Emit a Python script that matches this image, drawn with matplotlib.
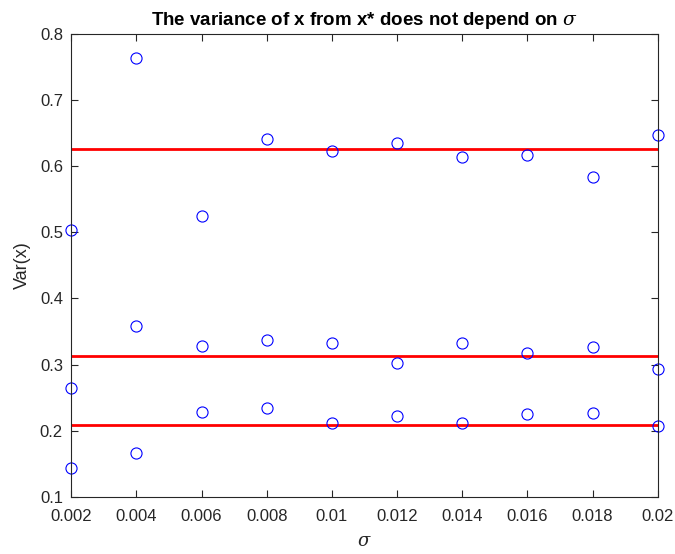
import numpy as np
import matplotlib.pyplot as plt
from matplotlib.ticker import FuncFormatter

plt.rcParams['font.family'] = ['Liberation Sans', 'DejaVu Sans']
plt.rcParams['mathtext.fontset'] = 'dejavuserif'

sigma = [0.002, 0.004, 0.006, 0.008, 0.010, 0.012, 0.014, 0.016, 0.018, 0.020]
var_high = [0.504, 0.764, 0.525, 0.641, 0.623, 0.635, 0.614, 0.617, 0.583, 0.647]
var_mid = [0.265, 0.359, 0.328, 0.337, 0.332, 0.303, 0.333, 0.317, 0.327, 0.294]
var_low = [0.144, 0.167, 0.228, 0.234, 0.211, 0.223, 0.212, 0.225, 0.227, 0.207]
levels = [0.6255, 0.3128, 0.2085]

fig = plt.figure(figsize=(6.75, 5.54), dpi=100)
ax = fig.add_axes([0.1055, 0.103, 0.869, 0.836])

for lv in levels:
    ax.plot([sigma[0], sigma[-1]], [lv, lv], color='red', lw=2)
for v in (var_high, var_mid, var_low):
    ax.plot(sigma, v, 'o', mfc='none', mec='blue', ms=8, mew=0.8, clip_on=False)

ax.set_xlim(0.002, 0.02)
ax.set_ylim(0.1, 0.8)
ax.set_xticks(sigma)
ax.set_yticks(np.arange(0.1, 0.81, 0.1))
ax.xaxis.set_major_formatter(FuncFormatter(lambda v, p: '%g' % round(v, 4)))
ax.yaxis.set_major_formatter(FuncFormatter(lambda v, p: '%g' % round(v, 2)))
ax.tick_params(direction='in', top=True, right=True, length=5, width=0.8,
               labelsize=12, colors='#262626')
ax.tick_params(axis='x', pad=9)
ax.tick_params(axis='y', pad=6)
for s in ax.spines.values():
    s.set_color('#262626')
    s.set_linewidth(0.8)

ax.set_xlabel(r'$\sigma$', fontsize=13, color='#262626', labelpad=6)
ax.set_ylabel('Var(x)', fontsize=13, color='#262626', labelpad=6)
ax.set_title(r'The variance of x from x* does not depend on $\sigma$',
             fontsize=13.5, fontweight='bold', pad=6)

fig.savefig('out.png', dpi=100)
